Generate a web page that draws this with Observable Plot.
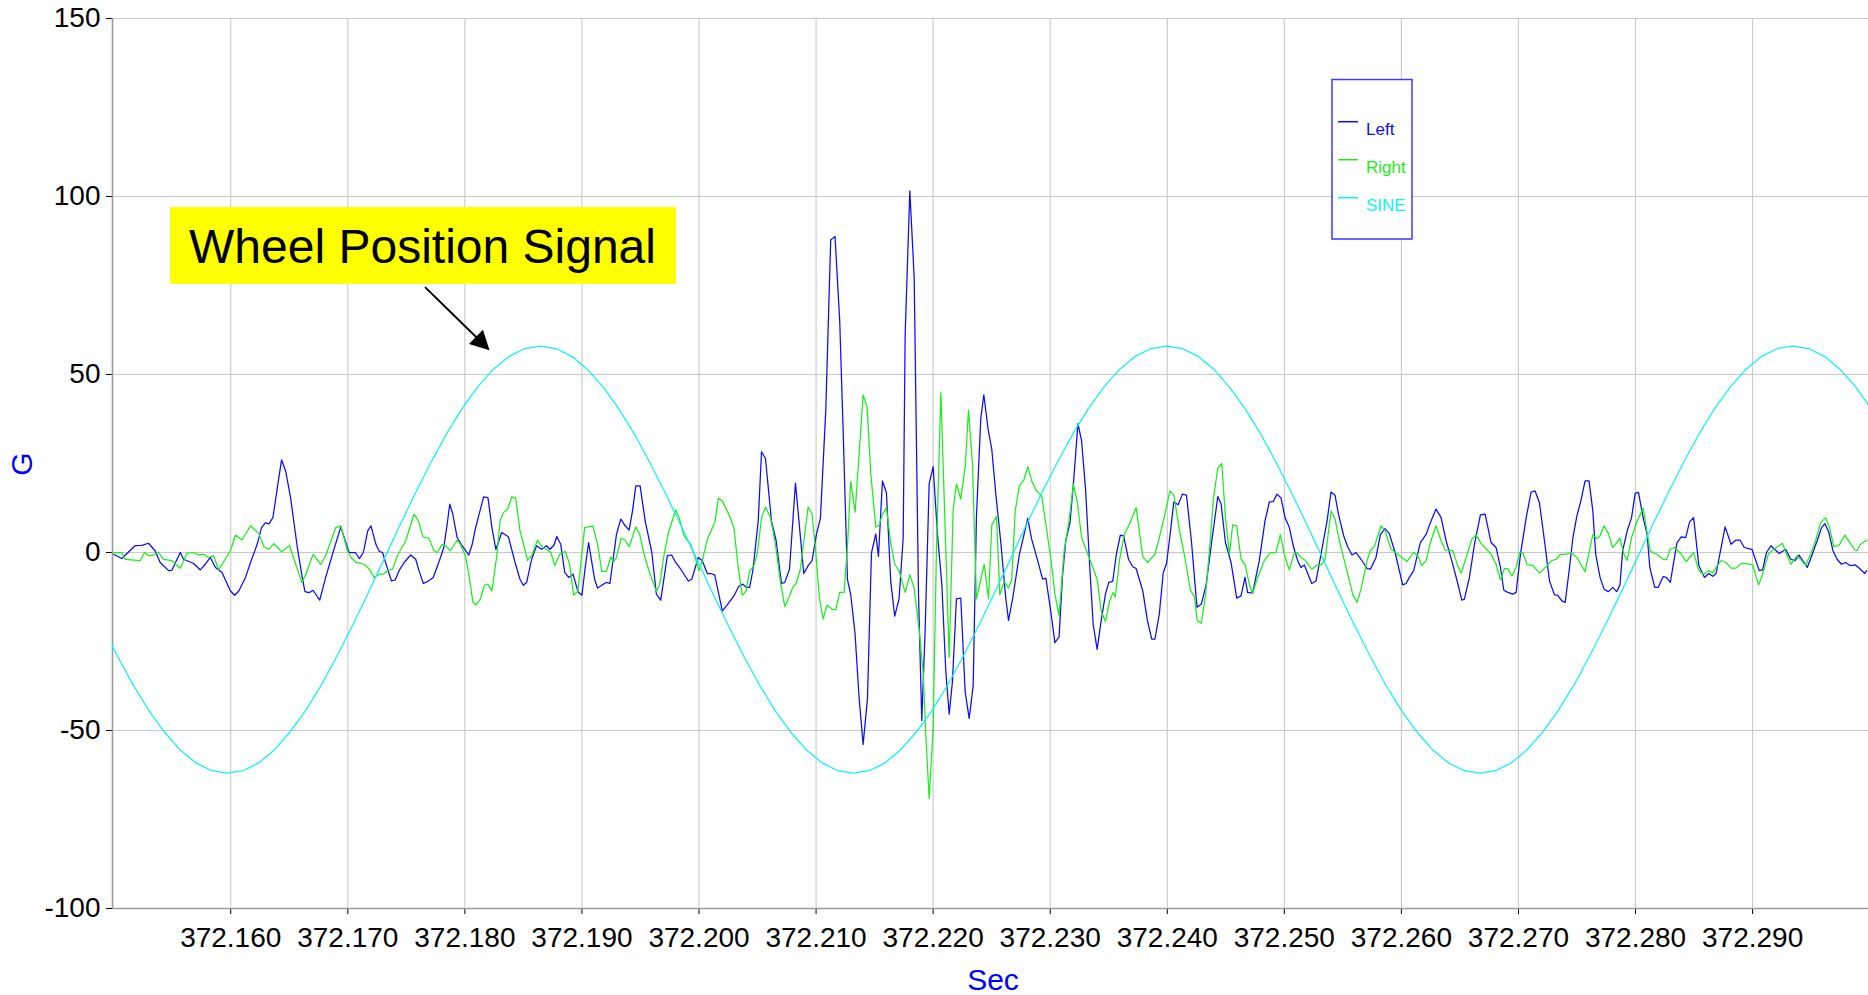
<!DOCTYPE html>
<html>
<head>
<meta charset="utf-8">
<script src="https://cdn.jsdelivr.net/npm/d3@7"></script>
<script src="https://cdn.jsdelivr.net/npm/@observablehq/plot@0.6"></script>
<style>
  html, body { margin: 0; padding: 0; background: #ffffff; overflow: hidden; }
  #chart { position: relative; width: 1868px; height: 995px; }
</style>
</head>
<body>
<div id="chart"></div>
<script>
// ---------- data ----------
const xDomain = [372.1499, 372.2999];
const yDomain = [-100, 150];
const xTicks = [372.16, 372.17, 372.18, 372.19, 372.20, 372.21, 372.22, 372.23, 372.24, 372.25, 372.26, 372.27, 372.28, 372.29];
const yTicks = [-100, -50, 0, 50, 100, 150];
const seriesNames = ["Left", "Right", "SINE"];
const seriesColors = ["#0c0cf5", "#1cee1c", "#10f2f6"];
const xTitle = "Sec";
const yTitle = "G";

const leftTime = [
372.15000,372.15069,372.15183,372.15240,372.15297,372.15354,372.15397,372.15469,372.15497,372.15569,372.15597,372.15683,372.15740,372.15783,372.15826,372.15869,372.15926,372.15997,372.16034,372.16069,
372.16126,372.16169,372.16226,372.16263,372.16297,372.16326,372.16360,372.16434,372.16469,372.16511,372.16569,372.16611,372.16634,372.16669,372.16703,372.16760,372.16811,372.16869,372.16940,372.17011,
372.17028,372.17065,372.17099,372.17133,372.17170,372.17198,372.17240,372.17269,372.17297,372.17331,372.17373,372.17405,372.17438,372.17481,372.17537,372.17580,372.17608,372.17645,372.17679,372.17730,
372.17792,372.17820,372.17849,372.17871,372.17897,372.17934,372.17976,372.18033,372.18061,372.18089,372.18160,372.18197,372.18231,372.18265,372.18315,372.18372,372.18429,372.18471,372.18499,372.18528,
372.18570,372.18612,372.18655,372.18697,372.18726,372.18762,372.18785,372.18819,372.18853,372.18887,372.18924,372.18966,372.19000,372.19028,372.19057,372.19108,372.19134,372.19205,372.19239,372.19295,
372.19332,372.19369,372.19403,372.19432,372.19460,372.19497,372.19540,372.19597,372.19636,372.19673,372.19730,372.19767,372.19801,372.19844,372.19909,372.19938,372.19994,372.20028,372.20071,372.20099,
372.20134,372.20199,372.20241,372.20298,372.20341,372.20375,372.20403,372.20432,372.20460,372.20506,372.20534,372.20568,372.20619,372.20659,372.20705,372.20733,372.20773,372.20824,372.20895,372.20932,
372.20966,372.21003,372.21037,372.21083,372.21125,372.21162,372.21202,372.21231,372.21268,372.21296,372.21333,372.21368,372.21402,372.21439,372.21473,372.21510,372.21533,372.21567,372.21601,372.21638,
372.21672,372.21709,372.21744,372.21761,372.21801,372.21838,372.21875,372.21903,372.21932,372.21966,372.22000,372.22037,372.22074,372.22108,372.22137,372.22165,372.22199,372.22236,372.22274,372.22308,
372.22342,372.22370,372.22407,372.22433,372.22470,372.22501,372.22536,372.22578,372.22621,372.22644,372.22681,372.22737,372.22808,372.22842,372.22893,372.22935,372.22963,372.23000,372.23040,372.23076,
372.23105,372.23133,372.23169,372.23198,372.23237,372.23268,372.23302,372.23339,372.23367,372.23401,372.23435,372.23472,372.23500,372.23534,372.23565,372.23599,372.23627,372.23669,372.23706,372.23734,
372.23791,372.23831,372.23867,372.23895,372.23932,372.23966,372.23994,372.24028,372.24056,372.24093,372.24130,372.24164,372.24206,372.24254,372.24291,372.24333,372.24384,372.24432,372.24460,372.24497,
372.24545,372.24593,372.24630,372.24664,372.24686,372.24729,372.24786,372.24835,372.24872,372.24906,372.24937,372.24972,372.25006,372.25043,372.25080,372.25114,372.25142,372.25171,372.25234,372.25271,
372.25313,372.25365,372.25399,372.25433,372.25462,372.25507,372.25541,372.25578,372.25613,372.25655,372.25707,372.25735,372.25783,372.25821,372.25860,372.25897,372.25946,372.26011,372.26040,372.26068,
372.26105,372.26162,372.26211,372.26254,372.26296,372.26339,372.26382,372.26430,372.26476,372.26516,372.26538,372.26581,372.26624,372.26675,372.26715,372.26766,372.26809,372.26846,372.26875,372.26909,
372.26952,372.26980,372.27017,372.27066,372.27108,372.27142,372.27179,372.27222,372.27265,372.27308,372.27334,372.27371,372.27399,372.27436,372.27465,372.27499,372.27533,372.27569,372.27603,372.27635,
372.27660,372.27697,372.27731,372.27768,372.27805,372.27839,372.27867,372.27890,372.27929,372.27966,372.27997,372.28025,372.28065,372.28099,372.28122,372.28164,372.28193,372.28235,372.28263,372.28297,
372.28354,372.28391,372.28428,372.28462,372.28496,372.28541,372.28589,372.28626,372.28660,372.28688,372.28731,372.28765,372.28816,372.28858,372.28892,372.28929,372.28994,372.29057,372.29085,372.29119,
372.29156,372.29227,372.29283,372.29326,372.29363,372.29397,372.29467,372.29510,372.29561,372.29589,372.29618,372.29652,372.29686,372.29722,372.29759,372.29793,372.29836,372.29878,372.29921,372.29958,
372.29975];
const leftG = [
-0.5,-1.7,1.9,2.0,2.6,0.5,-2.8,-5.1,-5.0,0,-1.9,-3.1,-4.9,-3.3,-1.4,-4.2,-5.6,-10.8,-12.0,-10.8,
-7.0,-2.8,2.3,7.0,8.4,8.0,9.8,26.0,22.9,15.4,1.4,-7.0,-11.0,-11.3,-10.6,-13.4,-7.0,-0.5,7.2,0,
0,0,-1.7,0,6.1,7.5,2.3,0.3,0,-3.7,-8.0,-7.7,-5.1,-2.8,-0.7,-1.9,-5.1,-8.7,-8.2,-7.0,
-1.4,1.4,8.0,13.6,10.8,4.2,1.9,-0.7,2.1,6.6,15.6,15.4,7.0,0.9,5.6,4.4,-2.8,-7.5,-9.2,-8.4,
-1.9,1.9,0.9,1.9,0.9,2.1,4.5,2.3,-5.6,-7.0,-6.1,-11.0,-12.0,-4.2,2.8,-7.5,-10.0,-8.4,-8.7,5.1,
9.4,7.5,6.3,11.7,18.7,18.7,8.9,0,-11.7,-13.4,-0.9,-0.7,-2.8,-4.7,-8.0,-7.5,-1.4,-2.3,-5.9,-5.9,
-6.3,-16.4,-14.7,-12.2,-9.4,-8.9,-9.8,-9.8,-5.1,8.9,28.3,26.4,8.9,3.3,-8.7,-8.4,-4.7,19.5,-5.9,-3.7,
-2.3,5.1,9.6,40.0,87.8,88.8,65.0,34.5,-7.6,-11.8,-22.8,-41.1,-53.9,-41.1,-0.2,5.2,-1.1,20.1,16.8,-8.2,
-17.9,-13.0,4.0,61.3,101.6,77.2,-11.8,-47.2,-21.6,19.3,24.1,5.2,-8.8,-33.2,-45.4,-36.2,-13.0,-12.8,-39.3,-46.6,
-37.4,10.1,37.6,44.3,34.5,29.0,16.2,2.8,-13.0,-19.1,-12.6,-0.5,9.6,3.7,-2.3,-7.5,-7.2,-15.4,-25.3,-23.7,
-6.6,3.3,8.4,19.2,36.2,31.4,17.8,-4.7,-20.1,-27.2,-19.2,-11.7,-8.4,-8.1,-0.5,4.9,4.7,-1.9,-4.0,-4.5,
-10.8,-19.2,-24.3,-24.3,-17.3,-5.6,-3.1,6.1,14.2,13.4,16.4,16.1,3.3,-15.4,-14.5,-8.9,4.2,15.7,13.6,2.8,
-2.8,-12.8,-12.2,-7.0,-11.2,-11.4,-2.3,8.9,14.2,14.3,16.4,15.3,9.8,7.0,1.4,-2.3,-4.2,-3.5,-8.7,-8.0,
-0.5,8.9,17.0,16.1,10.8,4.7,1.6,-0.7,0,-1.9,-4.5,-4.7,-1.4,5.1,6.7,5.3,0,-9.1,-8.7,-7.0,
-5.1,2.8,5.1,8.9,12.2,9.8,3.3,-2.3,-8.0,-13.4,-13.1,-7.0,2.3,10.6,10.8,2.8,1.4,-4.2,-10.6,-11.2,
-11.7,-11.2,-0.5,9.8,17.0,17.3,14.0,3.3,-8.0,-11.9,-12.0,-13.6,-14.0,-4.2,4.2,10.3,14.5,20.1,20.1,11.7,
-0.5,-7.0,-10.3,-11.0,-9.8,-11.0,-9.1,0.5,6.1,9.8,16.6,16.9,9.8,5.0,-4.2,-9.8,-9.8,-6.8,-7.0,-8.4,
2.8,4.4,4.2,8.6,9.8,-3.7,-7.0,-5.9,-6.7,-5.9,1.4,7.2,2.3,3.5,3.5,1.4,0.9,-5.1,-4.9,0,
1.9,-0.3,0.9,-1.9,-2.3,-0.7,-4.2,-0.5,4.2,7.0,8.1,5.6,0.5,-1.9,-3.3,-2.8,-3.7,-3.5,-4.7,-5.9,
-5.1];

const rightTime = [
372.15000,372.15069,372.15097,372.15154,372.15226,372.15263,372.15297,372.15326,372.15383,372.15426,372.15497,372.15569,372.15626,372.15683,372.15726,372.15769,372.15811,372.15854,372.15897,372.15997,
372.16040,372.16097,372.16169,372.16240,372.16283,372.16326,372.16369,372.16434,372.16503,372.16606,372.16640,372.16703,372.16769,372.16811,372.16897,372.16940,372.16997,372.17028,372.17071,372.17141,
372.17184,372.17226,372.17269,372.17303,372.17339,372.17382,372.17424,372.17495,372.17566,372.17603,372.17642,372.17693,372.17736,372.17764,372.17806,372.17835,372.17877,372.17934,372.17962,372.18004,
372.18038,372.18069,372.18095,372.18132,372.18168,372.18197,372.18231,372.18273,372.18301,372.18330,372.18366,372.18400,372.18434,372.18471,372.18536,372.18576,372.18621,372.18655,372.18697,372.18734,
372.18768,372.18810,372.18859,372.18895,372.18929,372.18966,372.19023,372.19093,372.19134,372.19170,372.19210,372.19247,372.19267,372.19295,372.19335,372.19369,372.19403,372.19460,372.19494,372.19531,
372.19568,372.19636,372.19665,372.19702,372.19739,372.19801,372.19830,372.19872,372.19929,372.19972,372.20000,372.20028,372.20071,372.20136,372.20165,372.20199,372.20261,372.20298,372.20335,372.20369,
372.20403,372.20432,372.20469,372.20497,372.20534,372.20568,372.20611,372.20653,372.20696,372.20733,372.20773,372.20801,372.20830,372.20866,372.20932,372.20966,372.20994,372.21028,372.21060,372.21094,
372.21136,372.21168,372.21202,372.21239,372.21268,372.21296,372.21333,372.21362,372.21402,372.21436,372.21467,372.21510,372.21538,372.21567,372.21601,372.21638,372.21672,372.21709,372.21761,372.21801,
372.21838,372.21880,372.21915,372.21937,372.21966,372.22000,372.22028,372.22066,372.22103,372.22137,372.22171,372.22199,372.22236,372.22274,372.22302,372.22336,372.22370,372.22399,372.22436,372.22473,
372.22501,372.22541,372.22570,372.22607,372.22644,372.22672,372.22701,372.22737,372.22774,372.22808,372.22842,372.22879,372.22927,372.22963,372.23006,372.23040,372.23076,372.23119,372.23161,372.23198,
372.23232,372.23268,372.23322,372.23373,372.23401,372.23435,372.23472,372.23508,372.23537,372.23556,372.23593,372.23633,372.23678,372.23734,372.23791,372.23831,372.23895,372.23932,372.23980,372.24023,
372.24056,372.24102,372.24150,372.24198,372.24234,372.24254,372.24291,372.24328,372.24367,372.24395,372.24432,372.24466,372.24497,372.24531,372.24559,372.24593,372.24630,372.24664,372.24701,372.24729,
372.24772,372.24829,372.24880,372.24929,372.24966,372.25006,372.25043,372.25080,372.25108,372.25137,372.25177,372.25234,372.25279,372.25313,372.25348,372.25399,372.25433,372.25470,372.25527,372.25584,
372.25621,372.25655,372.25707,372.25735,372.25769,372.25826,372.25860,372.25912,372.25969,372.26048,372.26105,372.26140,372.26174,372.26211,372.26248,372.26296,372.26339,372.26373,372.26439,372.26481,
372.26510,372.26553,372.26601,372.26638,372.26681,372.26766,372.26809,372.26846,372.26880,372.26909,372.26943,372.26980,372.27009,372.27037,372.27074,372.27123,372.27179,372.27245,372.27285,372.27322,
372.27359,372.27400,372.27448,372.27499,372.27569,372.27635,372.27669,372.27697,372.27731,372.27768,372.27805,372.27867,372.27901,372.27929,372.27966,372.28014,372.28065,372.28099,372.28127,372.28184,
372.28235,372.28263,372.28297,372.28334,372.28391,372.28433,372.28496,372.28541,372.28581,372.28626,372.28660,372.28688,372.28731,372.28773,372.28816,372.28858,372.28901,372.28943,372.29000,372.29051,
372.29085,372.29136,372.29193,372.29255,372.29289,372.29326,372.29382,372.29453,372.29496,372.29538,372.29581,372.29623,372.29657,372.29694,372.29742,372.29788,372.29836,372.29873,372.29892,372.29921,
372.29975];
const rightG = [
0,0,-1.9,-2.1,-2.3,0,-0.9,-0.9,0,-1.9,-2.3,-4.4,-0.2,0,-0.7,-0.5,-1.4,-0.9,-4.9,0.5,
4.9,3.5,7.5,5.3,1.6,0.9,2.5,0.2,1.9,-8.4,-6.3,-0.5,-3.3,-0.9,7.0,7.5,0.5,-1.4,-2.8,-3.3,
-4.7,-7.0,-6.1,-6.1,-5.1,-4.7,-0.9,3.3,10.8,8.9,4.4,4.0,0.5,0,2.3,1.9,0.5,3.5,2.3,-0.9,
-7.0,-14.0,-14.7,-13.1,-9.2,-8.9,-10.8,-0.9,8.9,11.2,12.2,15.6,15.3,6.1,-2.3,-0.5,3.5,1.7,0.9,0,
-3.7,-0.5,0.3,-3.3,-12.0,-10.8,7.0,7.5,2.3,-5.3,-5.3,-1.2,-2.8,-1.4,4.0,3.5,1.6,7.2,5.0,-0.5,
-4.7,-11.0,-8.9,-0.5,5.6,12.0,9.8,4.7,2.3,-1.9,-5.1,-2.3,3.7,8.6,15.2,14.5,10.3,7.0,-4.2,-12.0,
-10.8,-5.3,-3.7,-0.5,9.8,12.8,9.8,2.3,-8.4,-15.2,-12.2,-9.8,-8.7,-4.7,12.8,10.8,1.4,-12.6,-18.7,-14.8,
-15.9,-16.1,-11.2,-11.2,1.6,19.9,11.3,24.8,44.3,40.9,22.3,7.1,7.7,10.7,12.6,2.8,-3.3,-5.1,-11.2,-6.3,
-10.0,-21.6,-33.8,-50.9,-69.1,-49.6,0.4,44.9,6.5,-29.5,12.0,19.3,15.0,24.1,40.0,24.8,-13.0,-8.8,-3.3,-13.0,
7.7,10.1,-11.8,-8.2,-10.0,-7.5,11.7,18.7,20.3,24.1,20.1,17.5,15.9,8.0,-1.9,-11.7,-17.8,0.5,8.9,19.2,
14.0,4.2,-0.5,-5.0,-7.5,-16.4,-19.4,-13.6,-11.2,-12.5,-1.9,5.1,8.0,12.6,-1.2,-2.8,-0.5,4.2,10.8,17.3,
16.2,6.6,-1.4,-10.6,-12.6,-19.0,-19.9,-11.7,3.3,15.4,23.7,25.0,9.8,-0.5,7.8,7.5,-1.9,-3.3,-8.9,-11.5,
-7.0,-2.3,0,0,5.0,-1.4,-4.9,-0.5,0,-1.2,-2.2,-4.7,-3.5,-3.5,-1.9,11.7,9.4,3.3,-4.2,-11.7,
-14.0,-10.3,-2.3,0.7,1.6,7.5,6.1,0.9,-0.5,-2.5,0,-0.9,-3.7,-2.3,2.8,7.5,3.3,0.7,0.5,-3.7,
-5.8,-1.4,3.7,5.0,2.5,-0.5,-3.3,-7.7,-4.5,-4.5,-6.6,-4.2,0,0,-3.5,-3.6,-5.8,-3.7,-2.3,-1.9,
-0.5,-0.5,0,-1.4,-5.4,5.0,3.9,4.7,7.5,5.3,1.4,4.0,-0.5,-2.2,4.2,8.9,12.4,5.6,0.3,-0.5,
-1.9,-2.1,0.9,1.4,-0.5,-2.6,0,-5.1,-6.1,-5.1,-5.8,-4.2,-2.3,-2.8,-4.4,-4.4,-3.1,-3.1,-3.5,-9.1,
-6.1,-0.3,1.2,2.6,-0.3,-3.3,-0.9,-3.6,-0.5,3.3,8.4,9.8,7.0,1.6,2.2,4.9,2.5,0.7,0.5,2.3,
3.5];

const sineTime = [
372.14900,372.15034,372.15168,372.15301,372.15435,372.15569,372.15703,372.15836,372.15970,372.16104,372.16238,372.16371,372.16505,372.16639,372.16773,372.16906,
372.17040,372.17174,372.17308,372.17441,372.17575,372.17709,372.17843,372.17976,372.18110,372.18244,372.18378,372.18511,372.18645,372.18779,372.18913,372.19046,
372.19180,372.19314,372.19448,372.19581,372.19715,372.19849,372.19983,372.20116,372.20250,372.20384,372.20518,372.20651,372.20785,372.20919,372.21053,372.21186,
372.21320,372.21454,372.21588,372.21721,372.21855,372.21989,372.22123,372.22256,372.22390,372.22524,372.22658,372.22791,372.22925,372.23059,372.23193,372.23326,
372.23460,372.23594,372.23728,372.23861,372.23995,372.24129,372.24263,372.24396,372.24530,372.24664,372.24798,372.24931,372.25065,372.25199,372.25333,372.25466,
372.25600,372.25734,372.25868,372.26001,372.26135,372.26269,372.26403,372.26536,372.26670,372.26804,372.26938,372.27071,372.27205,372.27339,372.27473,372.27606,
372.27740,372.27874,372.28008,372.28141,372.28275,372.28409,372.28543,372.28676,372.28810,372.28944,372.29078,372.29211,372.29345,372.29479,372.29613,372.29746,
372.29880,372.30014];
const sineG = [
-20.5,-29.2,-37.3,-44.4,-50.5,-55.5,-59.1,-61.3,-62,-61.3,-59.1,-55.5,-50.5,-44.4,-37.3,-29.2,
-20.5,-11.4,-2,7.4,16.5,25.2,33.3,40.4,46.5,51.5,55.1,57.3,58,57.3,55.1,51.5,
46.5,40.4,33.3,25.2,16.5,7.4,-2,-11.4,-20.5,-29.2,-37.3,-44.4,-50.5,-55.5,-59.1,-61.3,
-62,-61.3,-59.1,-55.5,-50.5,-44.4,-37.3,-29.2,-20.5,-11.4,-2,7.4,16.5,25.2,33.3,40.4,
46.5,51.5,55.1,57.3,58,57.3,55.1,51.5,46.5,40.4,33.3,25.2,16.5,7.4,-2,-11.4,
-20.5,-29.2,-37.3,-44.4,-50.5,-55.5,-59.1,-61.3,-62,-61.3,-59.1,-55.5,-50.5,-44.4,-37.3,-29.2,
-20.5,-11.4,-2,7.4,16.5,25.2,33.3,40.4,46.5,51.5,55.1,57.3,58,57.3,55.1,51.5,
46.5,40.4];

// annotation (anchored in data coordinates)
const annotationText = "Wheel Position Signal";
const annotationBox = [{x1: 372.15485, x2: 372.19808, y1: 75.3, y2: 96.9, tx: 372.17638, ty: 85.6, label: annotationText}];
const arrowFrom = {t: 372.17664, g: 74.4};
const arrowTo = {t: 372.18215, g: 56.7};

// ---------- build ----------
const FONT = "'Liberation Sans', Arial, Helvetica, sans-serif";
const toRows = (T, V, name) => T.map((t, i) => ({t, g: V[i], series: name}));
const rows = [
  ...toRows(leftTime, leftG, seriesNames[0]),
  ...toRows(rightTime, rightG, seriesNames[1]),
  ...toRows(sineTime, sineG, seriesNames[2])
];

const plot = Plot.plot({
  width: 1868,
  height: 995,
  marginTop: 18,
  marginRight: 0,
  marginBottom: 87,
  marginLeft: 112,
  style: {fontFamily: FONT, fontSize: "28px", background: "#ffffff", color: "#000000"},
  x: {domain: xDomain, ticks: xTicks, tickFormat: d3.format(".3f"), tickSize: 6, tickPadding: 13, label: null},
  y: {domain: yDomain, ticks: yTicks, tickFormat: d => String(d), tickSize: 6, tickPadding: 6, label: null},
  color: {domain: seriesNames, range: seriesColors},
  marks: [
    Plot.ruleX(xTicks, {stroke: "#c9c9c9", strokeWidth: 1.1}),
    Plot.ruleY(yTicks, {stroke: "#c9c9c9", strokeWidth: 1.1}),
    Plot.ruleX([xDomain[0]], {stroke: "#9a9a9a", strokeWidth: 1.6}),
    Plot.ruleY([yDomain[0]], {stroke: "#9a9a9a", strokeWidth: 1.6}),
    Plot.line(rows, {x: "t", y: "g", z: "series", stroke: "series", strokeWidth: 1.25, clip: true}),
    Plot.rect(annotationBox, {x1: "x1", x2: "x2", y1: "y1", y2: "y2", fill: "#ffff00"}),
    Plot.text(annotationBox, {x: "tx", y: "ty", text: "label", fontSize: 48, fill: "#000000"})
  ]
});

document.getElementById("chart").appendChild(plot);

// ---------- decorations drawn with the plot's scales ----------
const svg = d3.select(plot);
const sx = plot.scale("x"), sy = plot.scale("y");

// arrow with filled head
const p0 = [sx.apply(arrowFrom.t), sy.apply(arrowFrom.g)];
const p1 = [sx.apply(arrowTo.t), sy.apply(arrowTo.g)];
const ddx = p1[0] - p0[0], ddy = p1[1] - p0[1];
const L = Math.hypot(ddx, ddy), ux = ddx / L, uy = ddy / L;
const headLen = 19, headHalf = 10;
const b = [p1[0] - ux * headLen, p1[1] - uy * headLen];
svg.append("line")
  .attr("x1", p0[0]).attr("y1", p0[1])
  .attr("x2", b[0] + ux * 2).attr("y2", b[1] + uy * 2)
  .attr("stroke", "#000").attr("stroke-width", 2);
svg.append("path")
  .attr("d", `M${p1[0]},${p1[1]}L${b[0] - uy * headHalf},${b[1] + ux * headHalf}L${b[0] + uy * headHalf},${b[1] - ux * headHalf}Z`)
  .attr("fill", "#000");

// axis titles
svg.append("text")
  .attr("x", 993).attr("y", 990)
  .attr("text-anchor", "middle")
  .attr("font-family", FONT).attr("font-size", 30)
  .attr("fill", "#0000ff")
  .text(xTitle);
svg.append("text")
  .attr("transform", "translate(31.5,464) rotate(-90)")
  .attr("text-anchor", "middle")
  .attr("font-family", FONT).attr("font-size", 30)
  .attr("fill", "#0000ff")
  .text(yTitle);

// legend
const lg = svg.append("g").attr("font-family", FONT).attr("font-size", 17).attr("text-anchor", "start");
lg.append("rect")
  .attr("x", 1332).attr("y", 79.5).attr("width", 80).attr("height", 159.5)
  .attr("fill", "#ffffff").attr("stroke", "#3a3aff").attr("stroke-width", 1.5);
seriesNames.forEach((name, i) => {
  const yy = 121.7 + i * 38;
  lg.append("line")
    .attr("x1", 1338).attr("x2", 1358).attr("y1", yy).attr("y2", yy)
    .attr("stroke", seriesColors[i]).attr("stroke-width", 1.5);
  lg.append("text")
    .attr("x", 1366).attr("y", yy + 13.3)
    .attr("text-anchor", "start")
    .attr("fill", seriesColors[i])
    .text(name);
});
</script>
</body>
</html>
